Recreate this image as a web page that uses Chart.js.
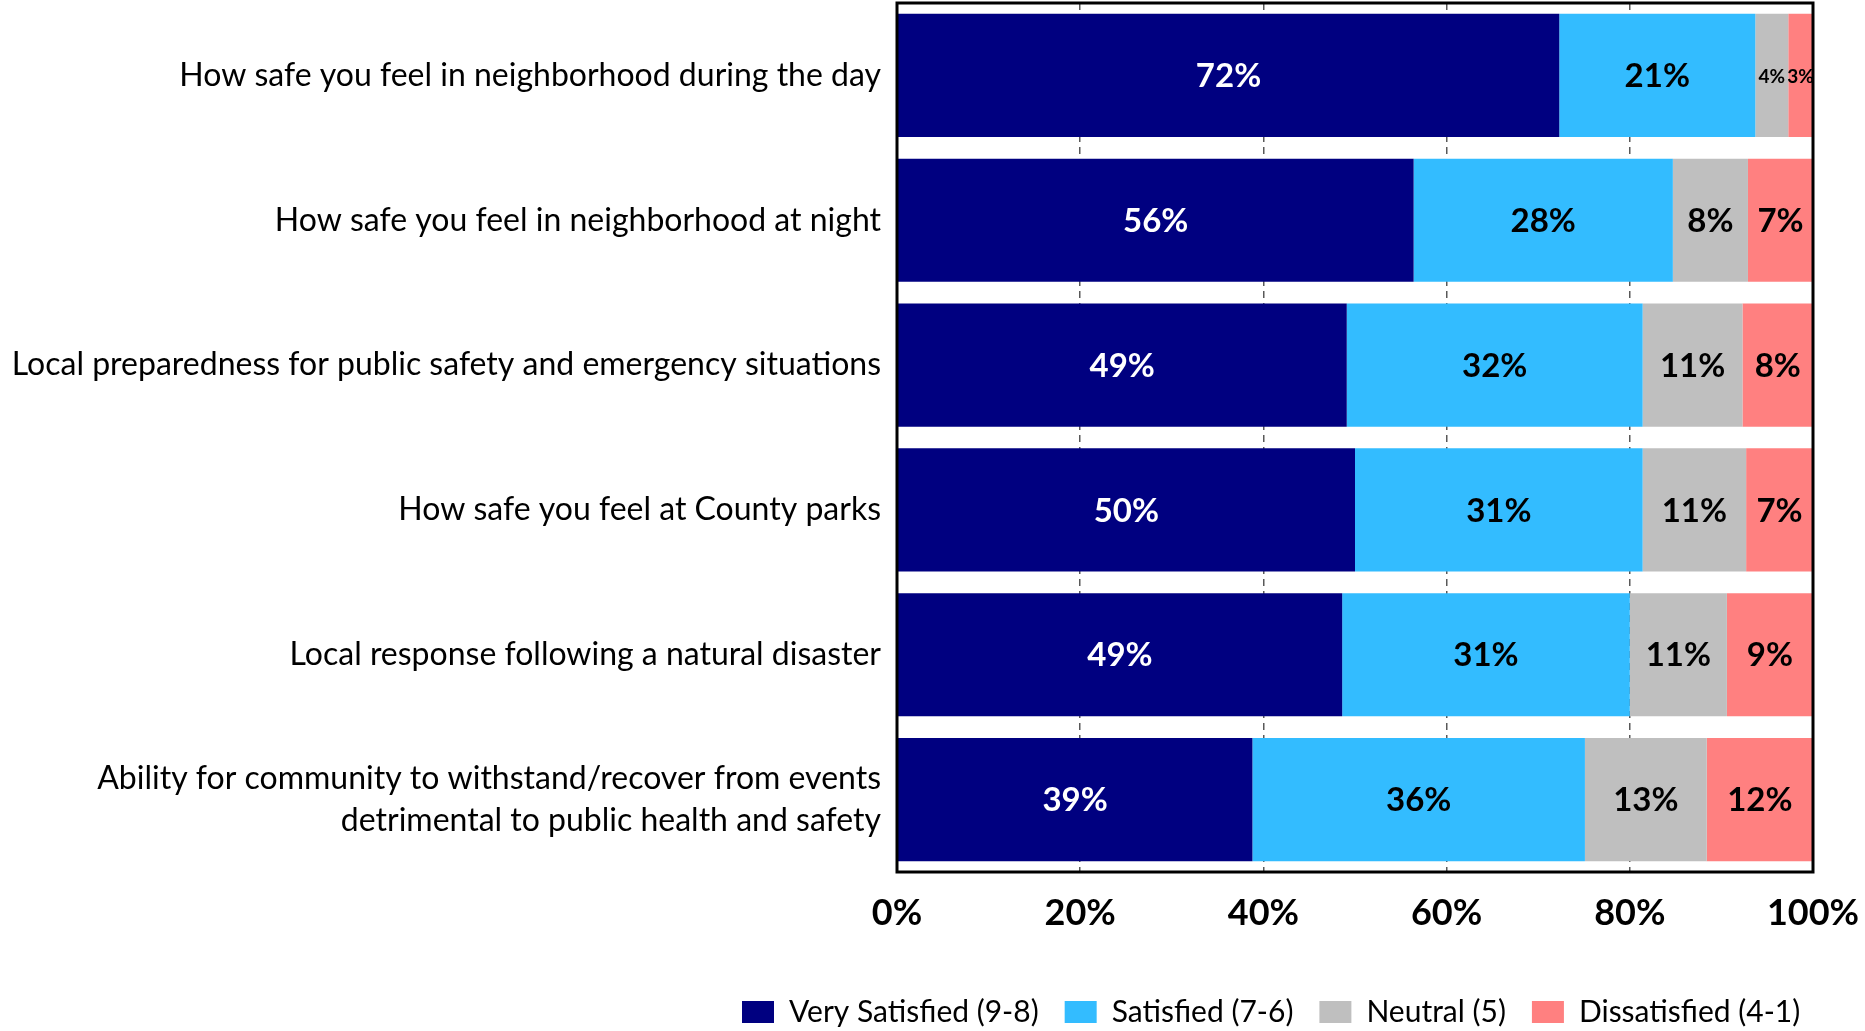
<!DOCTYPE html>
<html>
<head>
<meta charset="utf-8">
<script src="https://cdn.jsdelivr.net/npm/chart.js@4.4.0/dist/chart.umd.min.js"></script>
<style>
html, body { margin: 0; padding: 0; background: #fff; }
#wrap { width: 1865px; height: 1031px; }
</style>
</head>
<body>
<div id="wrap"><canvas id="chart"></canvas></div>
<script>
// categories (top to bottom)
const categories = [
    'How safe you feel in neighborhood during the day',
    'How safe you feel in neighborhood at night',
    'Local preparedness for public safety and emergency situations',
    'How safe you feel at County parks',
    'Local response following a natural disaster',
    ['Ability for community to withstand/recover from events', 'detrimental to public health and safety']
];

// shares in percent
const verySatisfied = [72.3, 56.4, 49.1, 50.0, 48.6, 38.8];
const satisfied     = [21.4, 28.3, 32.3, 31.4, 31.4, 36.3];
const neutral       = [3.6, 8.2, 10.9, 11.3, 10.6, 13.3];
const dissatisfied  = [2.7, 7.1, 7.7, 7.3, 9.4, 11.6];

const seriesNames = ['Very Satisfied (9-8)', 'Satisfied (7-6)', 'Neutral (5)', 'Dissatisfied (4-1)'];
const seriesColors = ['#000080', '#33BCFF', '#BFBFBF', '#FF8080'];
const labelColors = ['#ffffff', '#000000', '#000000', '#000000'];
const xTicks = [0, 20, 40, 60, 80, 100];

const FONT = 'Lato, "Open Sans", sans-serif';

// draw the percent labels in the middle of each segment
const segmentLabels = {
    id: 'segmentLabels',
    afterDatasetsDraw(chart) {
        const ctx = chart.ctx;
        ctx.save();
        ctx.textAlign = 'center';
        ctx.textBaseline = 'middle';
        chart.data.datasets.forEach((ds, i) => {
            const meta = chart.getDatasetMeta(i);
            meta.data.forEach((bar, j) => {
                const w = Math.abs(bar.x - bar.base);
                const size = w < 45 ? 19 : 33;
                ctx.font = 'bold ' + size + 'px ' + FONT;
                ctx.fillStyle = labelColors[i];
                ctx.fillText(Math.round(ds.data[j]) + '%', (bar.x + bar.base) / 2, bar.y + 1);
            });
        });
        ctx.restore();
    }
};

// black frame round the plot area
const plotFrame = {
    id: 'plotFrame',
    afterDatasetsDraw(chart) {
        const a = chart.chartArea;
        const ctx = chart.ctx;
        ctx.save();
        ctx.strokeStyle = '#000';
        ctx.lineWidth = 3;
        ctx.strokeRect(a.left, a.top, a.right - a.left, a.bottom - a.top);
        ctx.restore();
    }
};

// put the legend where the reference has it
const legendPlace = {
    id: 'legendPlace',
    afterLayout(chart) {
        const lg = chart.legend;
        const w = lg.right - lg.left;
        const h = lg.bottom - lg.top;
        lg.left = 716;
        lg.right = lg.left + w;
        lg.top = 971;
        lg.bottom = lg.top + h;
    }
};

const datasets = [verySatisfied, satisfied, neutral, dissatisfied].map((vals, i) => ({
    label: seriesNames[i],
    data: vals,
    backgroundColor: seriesColors[i],
    borderWidth: 0,
    barPercentage: 0.85,
    categoryPercentage: 1.0
}));

new Chart(document.getElementById('chart'), {
    type: 'bar',
    data: { labels: categories, datasets: datasets },
    plugins: [segmentLabels, plotFrame, legendPlace],
    options: {
        indexAxis: 'y',
        responsive: true,
        maintainAspectRatio: false,
        animation: false,
        layout: { padding: { top: 3, right: 0, bottom: 0, left: 0 } },
        scales: {
            x: {
                stacked: true,
                min: 0,
                max: 100,
                afterBuildTicks: (scale) => { scale.ticks = xTicks.map(v => ({ value: v })); },
                afterFit: (scale) => {
                    scale.height = 93;
                    scale.paddingRight = 52;
                },
                ticks: {
                    callback: v => v + '%',
                    color: '#000',
                    font: { family: FONT, size: 36, weight: 'bold' },
                    padding: 20,
                    maxRotation: 0
                },
                grid: {
                    color: c => (c.tick && (c.tick.value === 0 || c.tick.value === 100)) ? 'rgba(0,0,0,0)' : '#595959',
                    lineWidth: 1.5,
                    drawTicks: false
                },
                border: { display: false, dash: [7, 5] }
            },
            y: {
                stacked: true,
                afterFit: (scale) => {
                    scale.width = 897;
                    scale.paddingTop = 0;
                    scale.paddingBottom = 0;
                },
                ticks: {
                    color: '#000',
                    font: { family: FONT, size: 32, lineHeight: 1.3 },
                    padding: 16,
                    autoSkip: false
                },
                grid: { display: false, drawTicks: false },
                border: { display: false }
            }
        },
        plugins: {
            legend: {
                position: 'bottom',
                align: 'start',
                labels: {
                    color: '#000',
                    font: { family: FONT, size: 30 },
                    boxWidth: 32,
                    boxHeight: 22,
                    padding: 26
                }
            },
            tooltip: { enabled: false }
        }
    }
});
</script>
</body>
</html>
